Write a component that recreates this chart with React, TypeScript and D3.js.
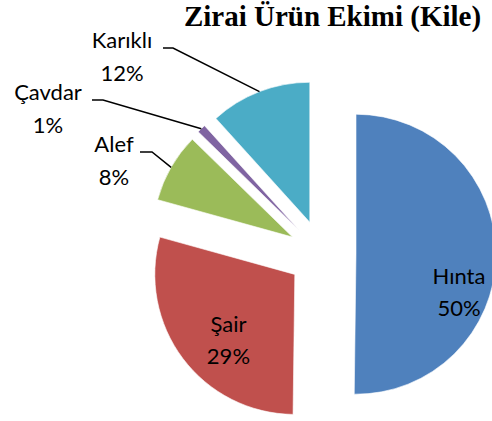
import * as d3 from "d3";

const title = "Zirai Ürün Ekimi (Kile)";
const categories = ["Hınta", "Şair", "Alef", "Çavdar", "Karıklı"];
const shares = [50.2, 29.1, 8.0, 1.0, 11.7];
const percentLabels = ["50%", "29%", "8%", "1%", "12%"];
const colors = ["#4F81BD", "#C0504D", "#9BBB59", "#8064A2", "#4BACC6"];

const W = 492;
const H = 421;
const CX = 322;
const CY = 254;
const R = 140;
const EXPLODE = 34;
const LINE_GAP = 32;

// inside labels: nudge from the 0.7R centroid; outside labels: anchor + leader
const insideNudge: { [k: string]: [number, number] } = {
  Hınta: [5, 37],
  Şair: [12, 7],
};
const outsideLabels: {
  [k: string]: { x: number; y: number; start: number; elbow: number };
} = {
  Karıklı: { x: 122, y: 48, start: 163, elbow: 173 },
  Çavdar: { x: 48, y: 100, start: 92, elbow: 103 },
  Alef: { x: 114, y: 152, start: 140, elbow: 152 },
};

export default function App() {
  const data = categories.map((name, i) => ({
    name,
    value: shares[i],
    label: percentLabels[i],
    color: colors[i],
  }));

  const pie = d3
    .pie<(typeof data)[number]>()
    .sort(null)
    .value((d) => d.value);
  const arcs = pie(data);
  const arc = d3.arc<d3.PieArcDatum<(typeof data)[number]>>().innerRadius(0).outerRadius(R);

  const font = "Lato, 'Open Sans', sans-serif";

  return (
    <svg
      width={W}
      height={H}
      style={{ position: "absolute", left: 0, top: 0, background: "#fff" }}
    >
      <text
        x={332.5}
        y={25.5}
        textAnchor="middle"
        fontFamily="'Liberation Serif', 'Times New Roman', serif"
        fontWeight="bold"
        fontSize={29}
        fill="#000"
      >
        {title}
      </text>
      {arcs.map((a) => {
        const mid = (a.startAngle + a.endAngle) / 2;
        const ox = CX + EXPLODE * Math.sin(mid);
        const oy = CY - EXPLODE * Math.cos(mid);
        const name = a.data.name;
        let label: any = null;
        if (insideNudge[name]) {
          const [nx, ny] = insideNudge[name];
          const lx = ox + 0.7 * R * Math.sin(mid) + nx;
          const ly = oy - 0.7 * R * Math.cos(mid) + ny;
          label = (
            <text textAnchor="middle" fontFamily={font} fontSize={22} fill="#000">
              <tspan x={lx} y={ly - 8}>{name}</tspan>
              <tspan x={lx} y={ly - 8 + LINE_GAP}>{a.data.label}</tspan>
            </text>
          );
        } else {
          const o = outsideLabels[name];
          const px = ox + R * Math.sin(mid);
          const py = oy - R * Math.cos(mid);
          label = (
            <g>
              <polyline
                points={`${o.start},${o.y} ${o.elbow},${o.y} ${px},${py}`}
                fill="none"
                stroke="#000"
                strokeWidth={1.5}
              />
              <text textAnchor="middle" fontFamily={font} fontSize={22} fill="#000">
                <tspan x={o.x} y={o.y}>{name}</tspan>
                <tspan x={o.x} y={o.y + LINE_GAP + 1}>{a.data.label}</tspan>
              </text>
            </g>
          );
        }
        return (
          <g key={name}>
            <path
              d={arc(a) || ""}
              transform={`translate(${ox},${oy})`}
              fill={a.data.color}
              stroke="#fff"
              strokeOpacity={0.6}
              strokeWidth={1}
            />
            {label}
          </g>
        );
      })}
    </svg>
  );
}
